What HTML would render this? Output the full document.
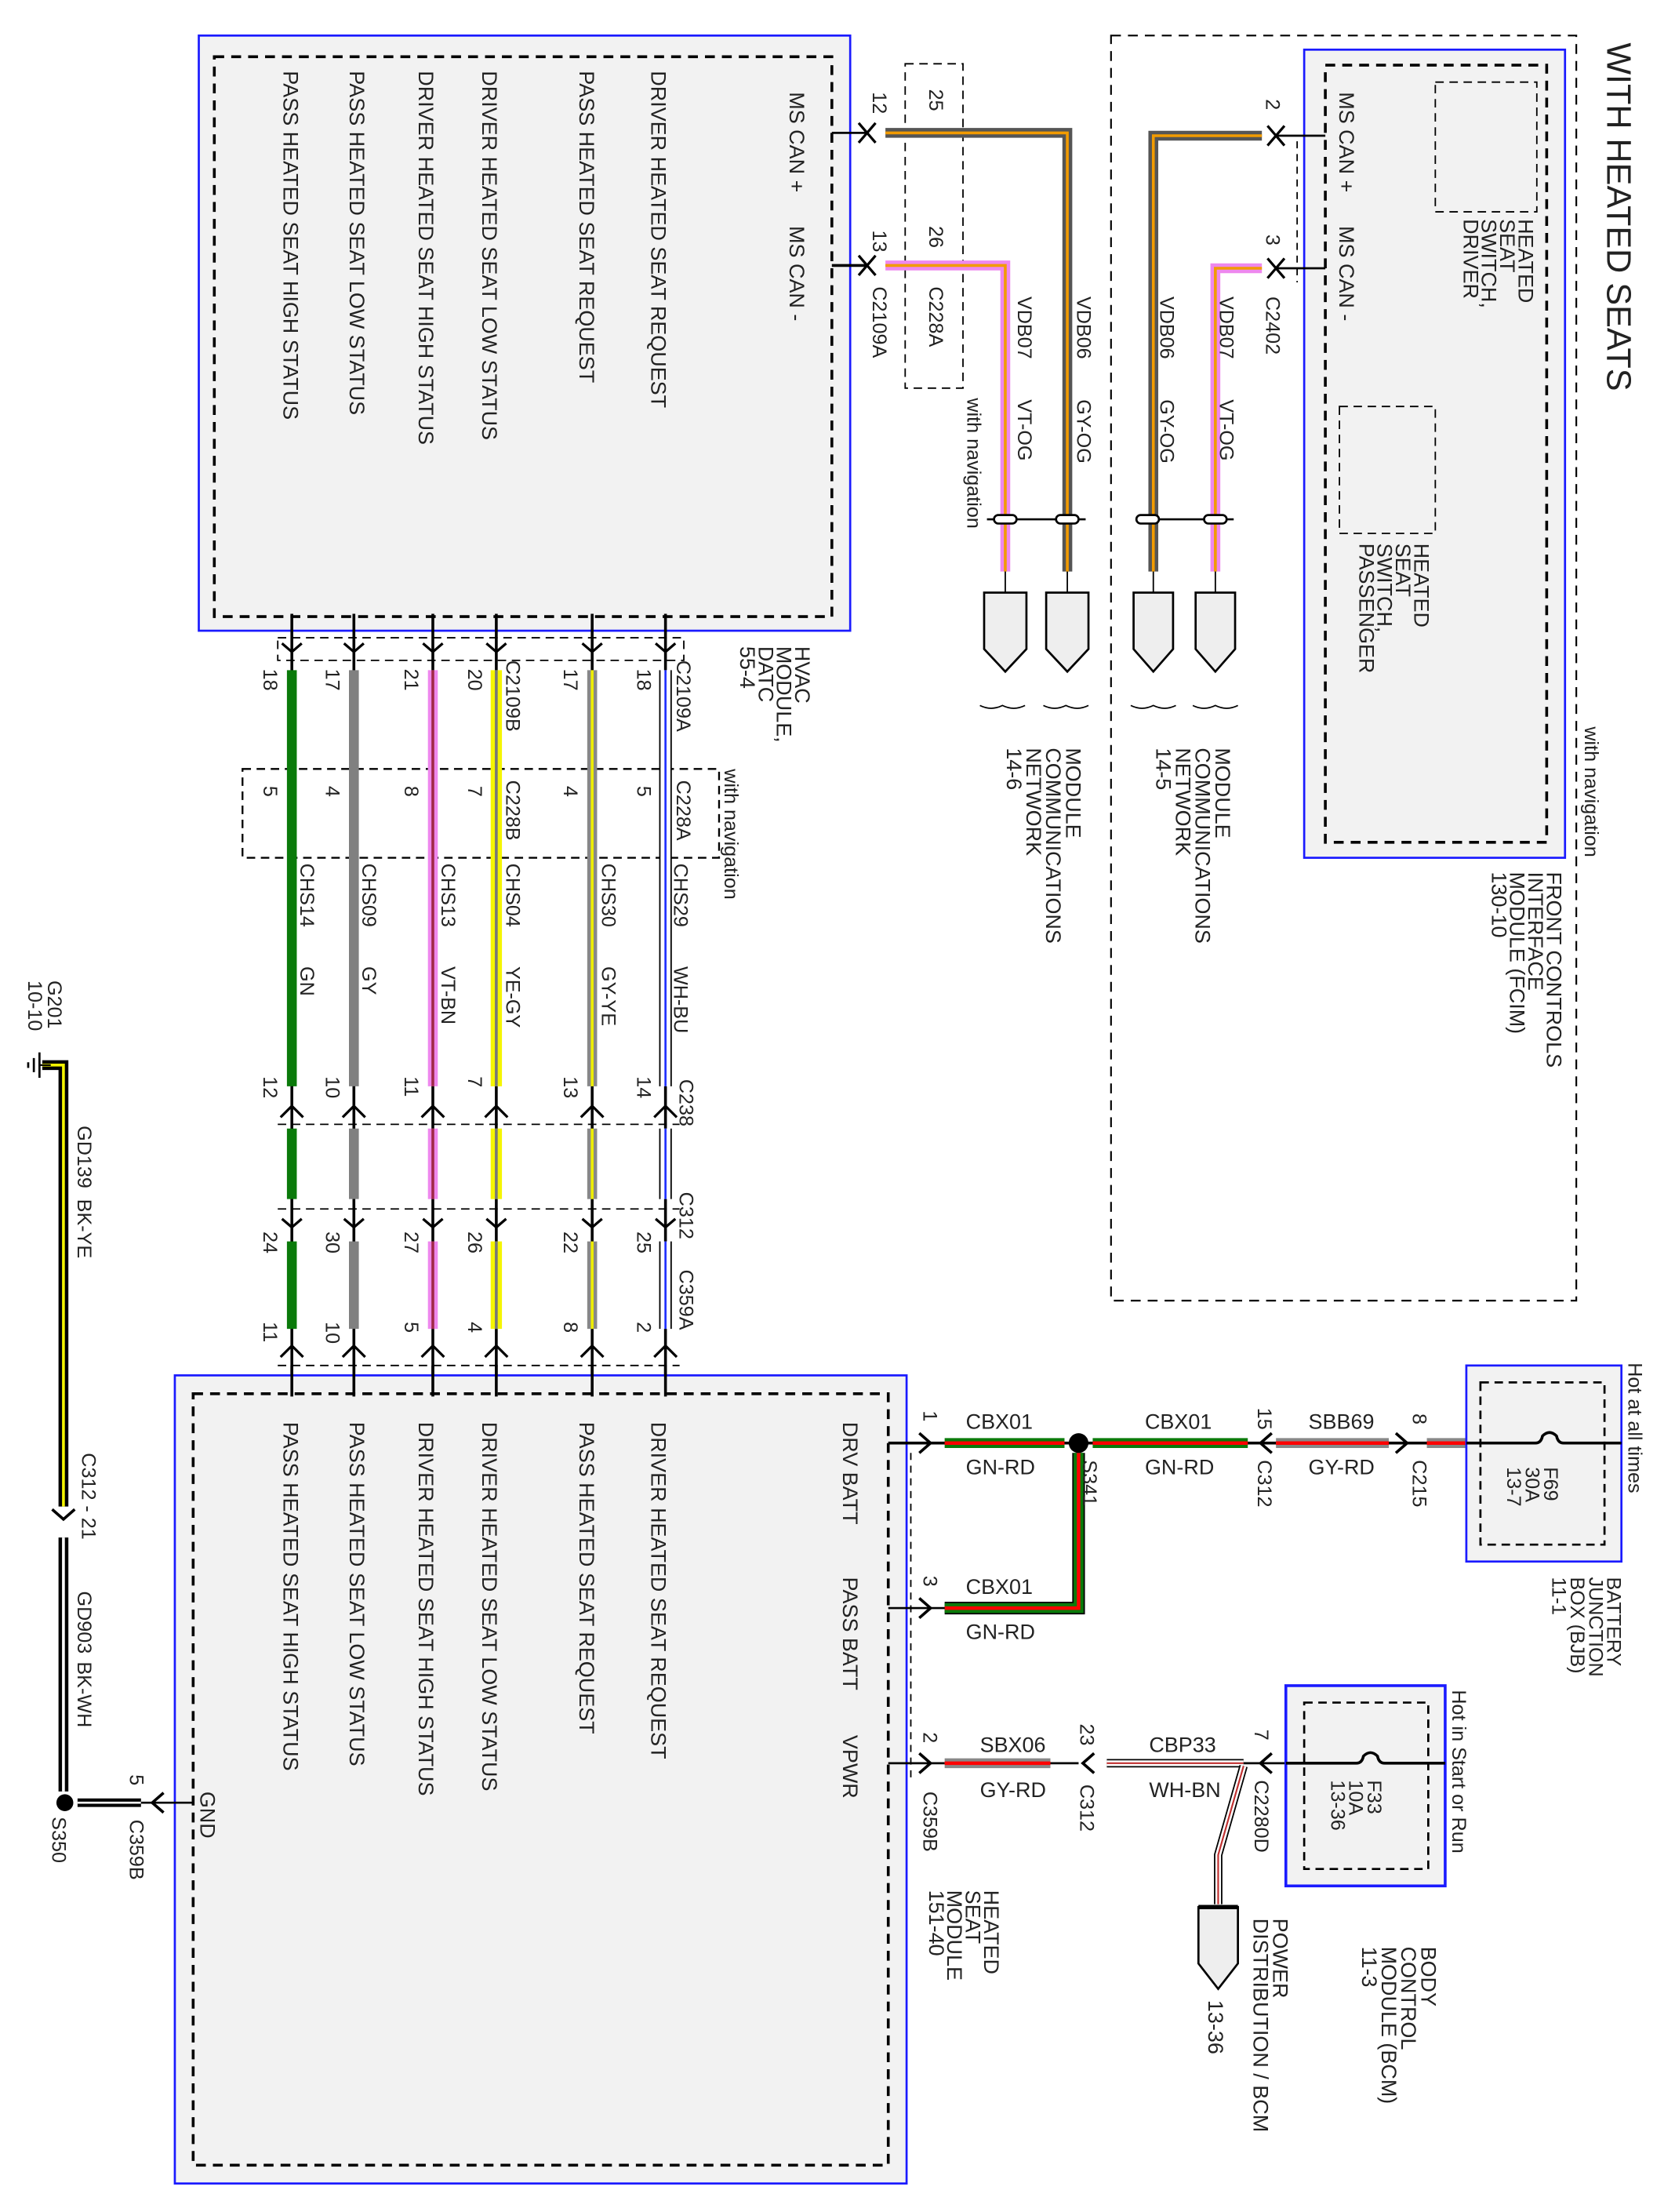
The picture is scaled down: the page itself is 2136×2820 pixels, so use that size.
<!DOCTYPE html>
<html><head><meta charset="utf-8"><style>
html,body{margin:0;padding:0;background:#fff;}
svg{display:block;}
text{font-family:"Liberation Sans",sans-serif;fill:#222;}
</style></head><body>
<svg width="2136" height="2820" viewBox="0 0 1188 1568" xmlns="http://www.w3.org/2000/svg">
<rect width="1188" height="1568" fill="#fff"/>

<!-- HVAC module -->
<rect x="141" y="25" width="462" height="422" fill="#f2f2f2" stroke="#1a1aff" stroke-width="1.5"/>
<rect x="152" y="40" width="438" height="397" fill="none" stroke="#000" stroke-width="2" stroke-dasharray="7,5"/>
<g font-size="15">
<text transform="translate(560,65) rotate(90)">MS CAN +</text>
<text transform="translate(560,160) rotate(90)">MS CAN -</text>
<text transform="translate(462,50) rotate(90)">DRIVER HEATED SEAT REQUEST</text>
<text transform="translate(411,50) rotate(90)">PASS HEATED SEAT REQUEST</text>
<text transform="translate(342,50) rotate(90)">DRIVER HEATED SEAT LOW STATUS</text>
<text transform="translate(297,50) rotate(90)">DRIVER HEATED SEAT HIGH STATUS</text>
<text transform="translate(248,50) rotate(90)">PASS HEATED SEAT LOW STATUS</text>
<text transform="translate(201,50) rotate(90)">PASS HEATED SEAT HIGH STATUS</text>
<text transform="translate(564,458) rotate(90)">HVAC</text>
<text transform="translate(551,458) rotate(90)">MODULE,</text>
<text transform="translate(538,458) rotate(90)">DATC</text>
<text transform="translate(525,458) rotate(90)">55-4</text>
</g>

<!-- HVAC CAN wires -->
<line x1="590" y1="94" x2="615" y2="94" stroke="#000" stroke-width="1.5"/>
<line x1="590" y1="188" x2="615" y2="188" stroke="#000" stroke-width="2"/>
<path d="M609,87 L615,94 L609,101 M621,87 L615,94 L621,101" stroke="#000" stroke-width="1.8" fill="none"/>
<path d="M609,181 L615,188 L609,195 M621,181 L615,188 L621,195" stroke="#000" stroke-width="1.8" fill="none"/>
<rect x="608" y="88" width="0" height="108" stroke="#000" stroke-dasharray="5,4"/>
<rect x="642" y="45" width="41" height="230" fill="none" stroke="#000" stroke-width="1" stroke-dasharray="6,4"/>
<path d="M628,94 L757,94 L757,405" stroke="#555" stroke-width="7" fill="none"/>
<path d="M628,94 L757,94 L757,405" stroke="#f29b00" stroke-width="2" fill="none"/>
<path d="M628,188 L713,188 L713,405" stroke="#ee88ee" stroke-width="7" fill="none"/>
<path d="M628,188 L713,188 L713,405" stroke="#f29b00" stroke-width="2" fill="none"/>
<g font-size="14">
<text transform="translate(619,65) rotate(90)">12</text>
<text transform="translate(619,163) rotate(90)">13</text>
<text transform="translate(619,203) rotate(90)">C2109A</text>
<text transform="translate(659,63) rotate(90)">25</text>
<text transform="translate(659,160) rotate(90)">26</text>
<text transform="translate(659,203) rotate(90)">C228A</text>
<text transform="translate(686,282) rotate(90)">with navigation</text>
<text transform="translate(764,210) rotate(90)">VDB06</text>
<text transform="translate(764,283) rotate(90)">GY-OG</text>
<text transform="translate(722,210) rotate(90)">VDB07</text>
<text transform="translate(722,283) rotate(90)">VT-OG</text>
</g>
<g stroke="#000" stroke-width="1.5" fill="#fff">
<line x1="700" y1="368" x2="770" y2="368"/>
<rect x="705" y="365" width="16" height="6" rx="3"/><rect x="749" y="365" width="16" height="6" rx="3"/>
</g>
<line x1="713" y1="405" x2="713" y2="420" stroke="#000"/><line x1="757" y1="405" x2="757" y2="420" stroke="#000"/>
<path d="M698,420 L728,420 L728,460 L713,476 L698,460 Z" fill="#eee" stroke="#000" stroke-width="1.5"/>
<path d="M742,420 L772,420 L772,460 L757,476 L742,460 Z" fill="#eee" stroke="#000" stroke-width="1.5"/>
<g font-size="15">
<text transform="translate(756,530) rotate(90)">MODULE</text>
<text transform="translate(742,530) rotate(90)">COMMUNICATIONS</text>
<text transform="translate(728,530) rotate(90)">NETWORK</text>
<text transform="translate(714,530) rotate(90)">14-6</text>
</g>
<path d="M695,500 q8,4 16,0 q8,4 16,0 M740,500 q8,4 16,0 q8,4 16,0" stroke="#000" fill="none"/>

<!-- Top right WITH HEATED SEATS -->
<rect x="788" y="25" width="330" height="897" fill="none" stroke="#000" stroke-width="1.2" stroke-dasharray="7,5"/>
<text transform="translate(1140,30) rotate(90)" font-size="24">WITH HEATED SEATS</text>
<rect x="925" y="35" width="185" height="573" fill="#f2f2f2" stroke="#1a1aff" stroke-width="1.5"/>
<rect x="940" y="46" width="157" height="551" fill="none" stroke="#000" stroke-width="2" stroke-dasharray="7,5"/>
<rect x="1018" y="58" width="72" height="92" fill="none" stroke="#000" stroke-dasharray="6,4"/>
<rect x="950" y="288" width="68" height="90" fill="none" stroke="#000" stroke-dasharray="6,4"/>
<g font-size="15">
<text transform="translate(950,65) rotate(90)">MS CAN +</text>
<text transform="translate(950,160) rotate(90)">MS CAN -</text>
<text transform="translate(1077,155) rotate(90)">HEATED</text>
<text transform="translate(1064,155) rotate(90)">SEAT</text>
<text transform="translate(1051,155) rotate(90)">SWITCH,</text>
<text transform="translate(1038,155) rotate(90)">DRIVER</text>
<text transform="translate(1003,385) rotate(90)">HEATED</text>
<text transform="translate(990,385) rotate(90)">SEAT</text>
<text transform="translate(977,385) rotate(90)">SWITCH,</text>
<text transform="translate(964,385) rotate(90)">PASSENGER</text>
<text transform="translate(1097,618) rotate(90)">FRONT CONTROLS</text>
<text transform="translate(1084,618) rotate(90)">INTERFACE</text>
<text transform="translate(1071,618) rotate(90)">MODULE (FCIM)</text>
<text transform="translate(1058,618) rotate(90)">130-10</text>
</g>
<text transform="translate(1124,515) rotate(90)" font-size="14">with navigation</text>
<line x1="940" y1="96" x2="905" y2="96" stroke="#000" stroke-width="1.5"/>
<line x1="940" y1="190" x2="905" y2="190" stroke="#000" stroke-width="1.5"/>
<path d="M911,89 L905,96 L911,103 M899,89 L905,96 L899,103" stroke="#000" stroke-width="1.8" fill="none"/>
<path d="M911,183 L905,190 L911,197 M899,183 L905,190 L899,197" stroke="#000" stroke-width="1.8" fill="none"/>
<line x1="920" y1="100" x2="920" y2="200" stroke="#000" stroke-dasharray="5,4"/>
<path d="M895,96 L818,96 L818,405" stroke="#555" stroke-width="7" fill="none"/>
<path d="M895,96 L818,96 L818,405" stroke="#f29b00" stroke-width="2" fill="none"/>
<path d="M895,190 L862,190 L862,405" stroke="#ee88ee" stroke-width="7" fill="none"/>
<path d="M895,190 L862,190 L862,405" stroke="#f29b00" stroke-width="2" fill="none"/>
<g font-size="14">
<text transform="translate(898,70) rotate(90)">2</text>
<text transform="translate(898,166) rotate(90)">3</text>
<text transform="translate(898,210) rotate(90)">C2402</text>
<text transform="translate(823,210) rotate(90)">VDB06</text>
<text transform="translate(823,283) rotate(90)">GY-OG</text>
<text transform="translate(865,210) rotate(90)">VDB07</text>
<text transform="translate(865,283) rotate(90)">VT-OG</text>
</g>
<g stroke="#000" stroke-width="1.5" fill="#fff">
<line x1="806" y1="368" x2="875" y2="368"/>
<rect x="806" y="365" width="16" height="6" rx="3"/><rect x="854" y="365" width="16" height="6" rx="3"/>
</g>
<line x1="818" y1="405" x2="818" y2="420" stroke="#000"/><line x1="862" y1="405" x2="862" y2="420" stroke="#000"/>
<path d="M804,420 L832,420 L832,460 L818,476 L804,460 Z" fill="#eee" stroke="#000" stroke-width="1.5"/>
<path d="M848,420 L876,420 L876,460 L862,476 L848,460 Z" fill="#eee" stroke="#000" stroke-width="1.5"/>
<g font-size="15">
<text transform="translate(862,530) rotate(90)">MODULE</text>
<text transform="translate(848,530) rotate(90)">COMMUNICATIONS</text>
<text transform="translate(834,530) rotate(90)">NETWORK</text>
<text transform="translate(820,530) rotate(90)">14-5</text>
</g>
<path d="M802,500 q8,4 16,0 q8,4 16,0 M846,500 q8,4 16,0 q8,4 16,0" stroke="#000" fill="none"/>

<!-- middle harness -->
<g fill="none" stroke="#000" stroke-width="1" stroke-dasharray="6,4">
<rect x="197" y="452" width="288" height="16"/>
<rect x="172" y="545" width="338" height="63" stroke-width="1.3"/>
<line x1="197" y1="797" x2="482" y2="797"/>
<line x1="197" y1="857" x2="482" y2="857"/>
<line x1="197" y1="968" x2="482" y2="968"/>
</g>
<g stroke="#000" stroke-width="2">
<line x1="472" y1="435" x2="472" y2="988"/>
<line x1="420" y1="435" x2="420" y2="988"/>
<line x1="352" y1="435" x2="352" y2="988"/>
<line x1="307" y1="435" x2="307" y2="988"/>
<line x1="251" y1="435" x2="251" y2="988"/>
<line x1="207" y1="435" x2="207" y2="988"/>
</g>
<g>
<g stroke-width="8" stroke="#fff"><line x1="472" y1="475" x2="472" y2="770"/><line x1="472" y1="800" x2="472" y2="850"/><line x1="472" y1="880" x2="472" y2="942"/></g>
<g stroke-width="1" stroke="#000"><line x1="468" y1="475" x2="468" y2="770"/><line x1="476" y1="475" x2="476" y2="770"/><line x1="468" y1="800" x2="468" y2="850"/><line x1="476" y1="800" x2="476" y2="850"/><line x1="468" y1="880" x2="468" y2="942"/><line x1="476" y1="880" x2="476" y2="942"/></g>
<g stroke-width="1.5" stroke="#2233ff"><line x1="472" y1="475" x2="472" y2="770"/><line x1="472" y1="800" x2="472" y2="850"/><line x1="472" y1="880" x2="472" y2="942"/></g>
<g stroke-width="7" stroke="#888"><line x1="420" y1="475" x2="420" y2="770"/><line x1="420" y1="800" x2="420" y2="850"/><line x1="420" y1="880" x2="420" y2="942"/></g>
<g stroke-width="2" stroke="#ee0"><line x1="420" y1="475" x2="420" y2="770"/><line x1="420" y1="800" x2="420" y2="850"/><line x1="420" y1="880" x2="420" y2="942"/></g>
<g stroke-width="8" stroke="#f5f500"><line x1="352" y1="475" x2="352" y2="770"/><line x1="352" y1="800" x2="352" y2="850"/><line x1="352" y1="880" x2="352" y2="942"/></g>
<g stroke-width="2" stroke="#777"><line x1="352" y1="475" x2="352" y2="770"/><line x1="352" y1="800" x2="352" y2="850"/><line x1="352" y1="880" x2="352" y2="942"/></g>
<g stroke-width="7" stroke="#ee88ee"><line x1="307" y1="475" x2="307" y2="770"/><line x1="307" y1="800" x2="307" y2="850"/><line x1="307" y1="880" x2="307" y2="942"/></g>
<g stroke-width="2" stroke="#a02848"><line x1="307" y1="475" x2="307" y2="770"/><line x1="307" y1="800" x2="307" y2="850"/><line x1="307" y1="880" x2="307" y2="942"/></g>
<g stroke-width="7" stroke="#808080"><line x1="251" y1="475" x2="251" y2="770"/><line x1="251" y1="800" x2="251" y2="850"/><line x1="251" y1="880" x2="251" y2="942"/></g>
<g stroke-width="7" stroke="#0a7a0a"><line x1="207" y1="475" x2="207" y2="770"/><line x1="207" y1="800" x2="207" y2="850"/><line x1="207" y1="880" x2="207" y2="942"/></g>
</g>
<g stroke="#000" stroke-width="1.8" fill="none">
<path d="M465,456 L472,462 L479,456 M413,456 L420,462 L427,456 M345,456 L352,462 L359,456 M300,456 L307,462 L314,456 M244,456 L251,462 L258,456 M200,456 L207,462 L214,456"/>
<path d="M464,792 L472,784 L480,792 M412,792 L420,784 L428,792 M344,792 L352,784 L360,792 M299,792 L307,784 L315,792 M243,792 L251,784 L259,792 M199,792 L207,784 L215,792"/>
<path d="M465,864 L472,870 L479,864 M413,864 L420,870 L427,864 M345,864 L352,870 L359,864 M300,864 L307,870 L314,864 M244,864 L251,870 L258,864 M200,864 L207,870 L214,864"/>
<path d="M464,962 L472,954 L480,962 M412,962 L420,954 L428,962 M344,962 L352,954 L360,962 M299,962 L307,954 L315,962 M243,962 L251,954 L259,962 M199,962 L207,954 L215,962"/>
</g>
<g font-size="14">
<text transform="translate(480,468) rotate(90)">C2109A</text>
<text transform="translate(359,468) rotate(90)">C2109B</text>
<text transform="translate(480,553) rotate(90)">C228A</text>
<text transform="translate(359,553) rotate(90)">C228B</text>
<text transform="translate(514,545) rotate(90)">with navigation</text>
<text transform="translate(478,612) rotate(90)">CHS29</text><text transform="translate(478,685) rotate(90)">WH-BU</text>
<text transform="translate(427,612) rotate(90)">CHS30</text><text transform="translate(427,685) rotate(90)">GY-YE</text>
<text transform="translate(359,612) rotate(90)">CHS04</text><text transform="translate(359,685) rotate(90)">YE-GY</text>
<text transform="translate(313,612) rotate(90)">CHS13</text><text transform="translate(313,685) rotate(90)">VT-BN</text>
<text transform="translate(257,612) rotate(90)">CHS09</text><text transform="translate(257,685) rotate(90)">GY</text>
<text transform="translate(213,612) rotate(90)">CHS14</text><text transform="translate(213,685) rotate(90)">GN</text>
<text transform="translate(482,765) rotate(90)">C238</text>
<text transform="translate(482,845) rotate(90)">C312</text>
<text transform="translate(482,900) rotate(90)">C359A</text>
</g>
<g font-size="14">
<text transform="translate(452,474) rotate(90)">18</text><text transform="translate(452,557) rotate(90)">5</text><text transform="translate(452,763) rotate(90)">14</text><text transform="translate(452,873) rotate(90)">25</text><text transform="translate(452,937) rotate(90)">2</text>
<text transform="translate(400,474) rotate(90)">17</text><text transform="translate(400,557) rotate(90)">4</text><text transform="translate(400,763) rotate(90)">13</text><text transform="translate(400,873) rotate(90)">22</text><text transform="translate(400,937) rotate(90)">8</text>
<text transform="translate(332,474) rotate(90)">20</text><text transform="translate(332,557) rotate(90)">7</text><text transform="translate(332,763) rotate(90)">7</text><text transform="translate(332,873) rotate(90)">26</text><text transform="translate(332,937) rotate(90)">4</text>
<text transform="translate(287,474) rotate(90)">21</text><text transform="translate(287,557) rotate(90)">8</text><text transform="translate(287,763) rotate(90)">11</text><text transform="translate(287,873) rotate(90)">27</text><text transform="translate(287,937) rotate(90)">5</text>
<text transform="translate(231,474) rotate(90)">17</text><text transform="translate(231,557) rotate(90)">4</text><text transform="translate(231,763) rotate(90)">10</text><text transform="translate(231,873) rotate(90)">30</text><text transform="translate(231,937) rotate(90)">10</text>
<text transform="translate(187,474) rotate(90)">18</text><text transform="translate(187,557) rotate(90)">5</text><text transform="translate(187,763) rotate(90)">12</text><text transform="translate(187,873) rotate(90)">24</text><text transform="translate(187,937) rotate(90)">11</text>
</g>

<!-- Heated seat module -->
<rect x="124" y="975" width="519" height="573" fill="#f2f2f2" stroke="#1a1aff" stroke-width="1.5"/>
<rect x="137" y="988" width="493" height="547" fill="none" stroke="#000" stroke-width="2" stroke-dasharray="7,5"/>
<g stroke="#000" stroke-width="2">
<line x1="472" y1="968" x2="472" y2="990"/><line x1="420" y1="968" x2="420" y2="990"/><line x1="352" y1="968" x2="352" y2="990"/>
<line x1="307" y1="968" x2="307" y2="990"/><line x1="251" y1="968" x2="251" y2="990"/><line x1="207" y1="968" x2="207" y2="990"/>
</g>
<g font-size="15">
<text transform="translate(462,1008) rotate(90)">DRIVER HEATED SEAT REQUEST</text>
<text transform="translate(411,1008) rotate(90)">PASS HEATED SEAT REQUEST</text>
<text transform="translate(342,1008) rotate(90)">DRIVER HEATED SEAT LOW STATUS</text>
<text transform="translate(297,1008) rotate(90)">DRIVER HEATED SEAT HIGH STATUS</text>
<text transform="translate(248,1008) rotate(90)">PASS HEATED SEAT LOW STATUS</text>
<text transform="translate(201,1008) rotate(90)">PASS HEATED SEAT HIGH STATUS</text>
<text transform="translate(598,1008) rotate(90)">DRV BATT</text>
<text transform="translate(598,1118) rotate(90)">PASS BATT</text>
<text transform="translate(598,1230) rotate(90)">VPWR</text>
<text transform="translate(142,1270) rotate(90)">GND</text>
<text transform="translate(698,1340) rotate(90)">HEATED</text>
<text transform="translate(685,1340) rotate(90)">SEAT</text>
<text transform="translate(672,1340) rotate(90)">MODULE</text>
<text transform="translate(659,1340) rotate(90)">151-40</text>
</g>
<line x1="646" y1="1030" x2="646" y2="1260" stroke="#000" stroke-dasharray="5,4"/>

<!-- DRV BATT circuit -->
<line x1="630" y1="1023" x2="1150" y2="1023" stroke="#000" stroke-width="2"/>
<path d="M652,1016 L660,1023 L652,1030" stroke="#000" stroke-width="2" fill="none"/>
<path d="M670,1023 L755,1023 M775,1023 L885,1023" stroke="#0a7a0a" stroke-width="7"/>
<path d="M670,1023 L755,1023 M775,1023 L885,1023" stroke="#f00" stroke-width="2.5"/>
<path d="M765,1030 L765,1140 L670,1140" stroke="#000" stroke-width="9" fill="none"/>
<path d="M765,1030 L765,1140 L670,1140" stroke="#0a7a0a" stroke-width="7" fill="none"/>
<path d="M765,1030 L765,1140 L670,1140" stroke="#f00" stroke-width="2.5" fill="none"/>
<circle cx="765" cy="1023" r="7" fill="#000"/>
<path d="M902,1016 L894,1023 L902,1030" stroke="#000" stroke-width="2" fill="none"/>
<path d="M905,1023 L985,1023 M1012,1023 L1040,1023" stroke="#888" stroke-width="7"/>
<path d="M905,1023 L985,1023 M1012,1023 L1040,1023" stroke="#f00" stroke-width="2.5"/>
<path d="M990,1016 L998,1023 L990,1030" stroke="#000" stroke-width="2" fill="none"/>
<line x1="630" y1="1140" x2="670" y2="1140" stroke="#000" stroke-width="1.5"/>
<path d="M652,1133 L660,1140 L652,1147" stroke="#000" stroke-width="2" fill="none"/>
<rect x="1040" y="968" width="110" height="139" fill="#f2f2f2" stroke="#1a1aff" stroke-width="1.5"/>
<rect x="1050" y="980" width="88" height="115" fill="none" stroke="#000" stroke-width="1.5" stroke-dasharray="6,4"/>
<path d="M1040,1023 L1089,1023 q4,0 5,-5 q5,-5 10,0 q1,5 5,5 L1150,1023" stroke="#000" stroke-width="2" fill="none"/>
<g font-size="15">
<text x="685" y="1013">CBX01</text><text x="685" y="1045">GN-RD</text>
<text x="812" y="1013">CBX01</text><text x="812" y="1045">GN-RD</text>
<text x="928" y="1013">SBB69</text><text x="928" y="1045">GY-RD</text>
<text x="685" y="1130">CBX01</text><text x="685" y="1162">GN-RD</text>
<text x="695" y="1242">SBX06</text><text x="695" y="1274">GY-RD</text>
<text x="815" y="1242">CBP33</text><text x="815" y="1274">WH-BN</text>
</g>
<g font-size="14">
<text transform="translate(655,1000) rotate(90)">1</text>
<text transform="translate(655,1117) rotate(90)">3</text>
<text transform="translate(655,1228) rotate(90)">2</text>
<text transform="translate(892,998) rotate(90)">15</text>
<text transform="translate(892,1035) rotate(90)">C312</text>
<text transform="translate(1002,1002) rotate(90)">8</text>
<text transform="translate(1002,1035) rotate(90)">C215</text>
<text transform="translate(768,1035) rotate(90)">S341</text>
<text transform="translate(1095,1040) rotate(90)">F69</text>
<text transform="translate(1082,1040) rotate(90)">30A</text>
<text transform="translate(1069,1040) rotate(90)">13-7</text>
<text transform="translate(1155,966) rotate(90)">Hot at all times</text>
<text transform="translate(1140,1118) rotate(90)">BATTERY</text>
<text transform="translate(1127,1118) rotate(90)">JUNCTION</text>
<text transform="translate(1114,1118) rotate(90)">BOX (BJB)</text>
<text transform="translate(1101,1118) rotate(90)">11-1</text>
</g>

<!-- VPWR circuit -->
<line x1="630" y1="1250" x2="670" y2="1250" stroke="#000" stroke-width="1.5"/>
<path d="M652,1243 L660,1250 L652,1257" stroke="#000" stroke-width="2" fill="none"/>
<path d="M670,1250 L745,1250" stroke="#888" stroke-width="7"/>
<path d="M670,1250 L745,1250" stroke="#f00" stroke-width="2.5"/>
<line x1="745" y1="1250" x2="765" y2="1250" stroke="#000" stroke-width="1.5"/>
<path d="M776,1243 L768,1250 L776,1257" stroke="#000" stroke-width="2" fill="none"/>
<path d="M785,1250 L882,1250" stroke="#000" stroke-width="6"/>
<path d="M785,1250 L882,1250" stroke="#fff" stroke-width="4"/>
<path d="M785,1250 L882,1250" stroke="#c03030" stroke-width="1.2"/>
<path d="M882,1252 L864,1315 L864,1350" stroke="#000" stroke-width="6" fill="none"/>
<path d="M882,1252 L864,1315 L864,1350" stroke="#fff" stroke-width="4" fill="none"/>
<path d="M882,1252 L864,1315 L864,1350" stroke="#c03030" stroke-width="1.2" fill="none"/>
<line x1="882" y1="1250" x2="1025" y2="1250" stroke="#000" stroke-width="1.5"/>
<path d="M902,1243 L894,1250 L902,1257" stroke="#000" stroke-width="2" fill="none"/>
<path d="M850,1352 L878,1352 L878,1392 L864,1410 L850,1392 Z" fill="#eee" stroke="#000" stroke-width="1.5"/>
<line x1="850" y1="1352" x2="878" y2="1352" stroke="#000" stroke-width="3"/>
<rect x="912" y="1195" width="113" height="142" fill="#f2f2f2" stroke="#1a1aff" stroke-width="2"/>
<rect x="925" y="1207" width="88" height="118" fill="none" stroke="#000" stroke-width="1.5" stroke-dasharray="6,4"/>
<path d="M912,1250 L962,1250 q4,0 5,-5 q5,-5 10,0 q1,5 5,5 L1025,1250" stroke="#000" stroke-width="2" fill="#f2f2f2"/>
<g font-size="14">
<text transform="translate(766,1222) rotate(90)">23</text>
<text transform="translate(766,1265) rotate(90)">C312</text>
<text transform="translate(655,1270) rotate(90)">C359B</text>
<text transform="translate(890,1226) rotate(90)">7</text>
<text transform="translate(890,1262) rotate(90)">C2280D</text>
<text transform="translate(970,1262) rotate(90)">F33</text>
<text transform="translate(957,1262) rotate(90)">10A</text>
<text transform="translate(944,1262) rotate(90)">13-36</text>
<text transform="translate(1030,1198) rotate(90)">Hot in Start or Run</text>
</g>
<g font-size="15">
<text transform="translate(1008,1380) rotate(90)">BODY</text>
<text transform="translate(994,1380) rotate(90)">CONTROL</text>
<text transform="translate(980,1380) rotate(90)">MODULE (BCM)</text>
<text transform="translate(966,1380) rotate(90)">11-3</text>
<text transform="translate(903,1360) rotate(90)">POWER</text>
<text transform="translate(889,1360) rotate(90)">DISTRIBUTION / BCM</text>
<text transform="translate(857,1418) rotate(90)">13-36</text>
</g>

<!-- Ground -->
<path d="M30,755 L45,755 L45,1068" stroke="#000" stroke-width="7" fill="none"/>
<path d="M30,755 L45,755 L45,1068" stroke="#f5f500" stroke-width="2" fill="none"/>
<line x1="28" y1="755" x2="36" y2="755" stroke="#000" stroke-width="1.2"/>
<line x1="28" y1="746" x2="28" y2="764" stroke="#000" stroke-width="1.5"/>
<line x1="24" y1="750" x2="24" y2="760" stroke="#000" stroke-width="1.5"/>
<line x1="20" y1="753" x2="20" y2="757" stroke="#000" stroke-width="1.5"/>
<path d="M37,1070 L45,1077 L53,1070" stroke="#000" stroke-width="2" fill="none"/>
<path d="M45,1090 L45,1270" stroke="#000" stroke-width="7"/>
<path d="M45,1090 L45,1270" stroke="#fff" stroke-width="2"/>
<circle cx="46" cy="1278" r="6" fill="#000"/>
<path d="M55,1278 L100,1278" stroke="#000" stroke-width="6"/>
<path d="M55,1278 L100,1278" stroke="#fff" stroke-width="1.5"/>
<line x1="100" y1="1278" x2="137" y2="1278" stroke="#000" stroke-width="1.5"/>
<path d="M116,1271 L108,1278 L116,1285" stroke="#000" stroke-width="2" fill="none"/>
<g font-size="14">
<text transform="translate(34,695) rotate(90)">G201</text>
<text transform="translate(20,695) rotate(90)">10-10</text>
<text transform="translate(55,798) rotate(90)">GD139</text>
<text transform="translate(55,850) rotate(90)">BK-YE</text>
<text transform="translate(58,1030) rotate(90)">C312 - 21</text>
<text transform="translate(55,1128) rotate(90)">GD903</text>
<text transform="translate(55,1178) rotate(90)">BK-WH</text>
<text transform="translate(37,1288) rotate(90)">S350</text>
<text transform="translate(92,1258) rotate(90)">5</text>
<text transform="translate(92,1290) rotate(90)">C359B</text>
</g>
</svg>
</body></html>
